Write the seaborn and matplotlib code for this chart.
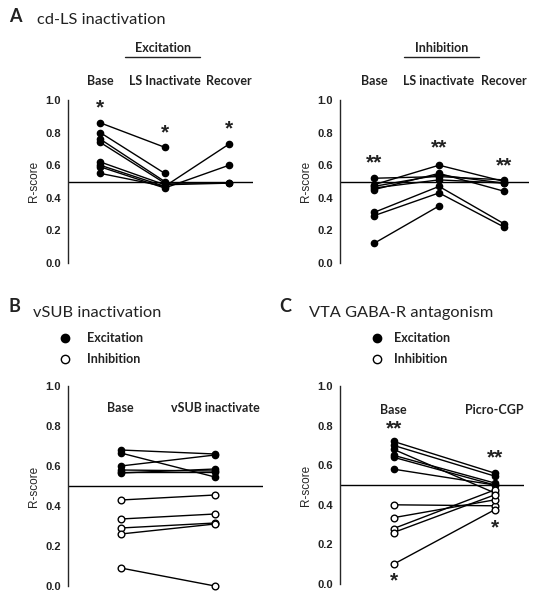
import numpy as np
import pandas as pd
import seaborn as sns
import matplotlib.pyplot as plt
from matplotlib.lines import Line2D

# ---- datos ----
ls_conds = ['Base', 'LS Inactivate', 'Recover']
ls_conds_inh = ['Base', 'LS inactivate', 'Recover']
exc_base = [0.86, 0.80, 0.76, 0.74, 0.62, 0.60, 0.59, 0.55]
exc_ls = [0.71, 0.55, 0.50, 0.49, 0.48, 0.47, 0.46, 0.47]
exc_rec = [np.nan, np.nan, np.nan, 0.49, 0.49, 0.73, 0.60, np.nan]
exc_stars = ['*', '*', '*']
exc_star_y = [0.95, 0.80, 0.82]

inh_base = [0.52, 0.48, 0.47, 0.46, 0.45, 0.31, 0.29, 0.12]
inh_ls = [0.53, 0.60, 0.54, 0.51, 0.55, 0.47, 0.43, 0.35]
inh_rec = [0.51, 0.50, 0.49, 0.49, 0.44, 0.24, 0.22, np.nan]
inh_stars = ['**', '**', '**']
inh_star_y = [0.615, 0.708, 0.595]

vsub_conds = ['Base', 'vSUB inactivate']
vsub_exc_base = [0.68, 0.665, 0.60, 0.58, 0.57, 0.565]
vsub_exc_post = [0.66, 0.545, 0.655, 0.575, 0.57, 0.585]
vsub_inh_base = [0.43, 0.335, 0.29, 0.26, 0.09]
vsub_inh_post = [0.455, 0.36, 0.315, 0.31, 0.0]

vta_conds = ['Base', 'Picro-CGP']
vta_exc_base = [0.72, 0.70, 0.68, 0.65, 0.64, 0.58]
vta_exc_post = [0.56, 0.545, 0.46, 0.51, 0.50, 0.50]
vta_inh_base = [0.40, 0.335, 0.28, 0.26, 0.10]
vta_inh_post = [0.395, 0.425, 0.475, 0.45, 0.375]
vta_stars = [('**', 0, 0.783), ('**', 1, 0.635), ('*', 1, 0.285), ('*', 0, 0.015)]

TXT = ['Lato', 'DejaVu Sans']
NUM = ['Liberation Sans', 'DejaVu Sans']


def long_df(*cols):
    rows = []
    for i, col in enumerate(cols):
        for u, v in enumerate(col):
            if not np.isnan(v):
                rows.append({'unit': u, 'cond': i, 'score': v})
    return pd.DataFrame(rows)


def paired(ax, cols, filled=True):
    df = long_df(*cols)
    sns.lineplot(data=df, x='cond', y='score', units='unit', estimator=None,
                 color='black', lw=1.0, marker='o', ms=4.5 if filled else 4.8,
                 mfc='black' if filled else 'white', mec='black', mew=1.0,
                 ax=ax, legend=False, clip_on=False)


def style_axis(ax, xlim):
    ax.set_xlim(*xlim)
    ax.set_ylim(0, 1.0)
    ax.axhline(0.5, color='black', lw=1.0, zorder=0)
    sns.despine(ax=ax, bottom=True)
    ax.set_xticks([])
    ax.set_xlabel('')
    ax.set_yticks([0, 0.2, 0.4, 0.6, 0.8, 1.0])
    ax.set_yticklabels(['0.0', '0.2', '0.4', '0.6', '0.8', '1.0'],
                       family=NUM, fontsize=8, fontweight='bold', color='#222222')
    ax.tick_params(axis='y', length=3.5, width=1.0, pad=1.5)
    ax.spines['left'].set_linewidth(1.0)
    ax.set_ylabel('R-score', family=NUM, fontsize=8.5, labelpad=4)
    ax.patch.set_alpha(0)


def stars(ax, labels, xs, ys):
    for s, x, y in zip(labels, xs, ys):
        ax.text(x, y, s, ha='center', va='center', fontsize=15, fontweight='bold',
                family=NUM, color='#222222', clip_on=False)


def cond_labels(ax, labels, y):
    for i, s in enumerate(labels):
        ax.text(i, y, s, ha='center', va='center', fontsize=9, fontweight='bold',
                family=TXT, color='#222222', clip_on=False)


sns.set_style('white')
W, H = 534, 600
fig = plt.figure(figsize=(W / 100, H / 100), dpi=100)


def px_axes(x0, y0, x1, y1):
    return fig.add_axes([x0 / W, 1 - y1 / H, (x1 - x0) / W, (y1 - y0) / H])


def ftext(x, y, s, **kw):
    fig.text(x / W, 1 - y / H, s, va='center', family=TXT, color='#222222', **kw)


# ---- A ----
axA1 = px_axes(68, 100, 253, 263)
paired(axA1, [exc_base, exc_ls, exc_rec])
style_axis(axA1, (-0.5, 2.37))
stars(axA1, exc_stars, [0, 1, 2], exc_star_y)
cond_labels(axA1, ls_conds, 1.117)

axA2 = px_axes(340, 100, 529, 263)
paired(axA2, [inh_base, inh_ls, inh_rec])
style_axis(axA2, (-0.52, 2.38))
stars(axA2, inh_stars, [0, 1, 2], inh_star_y)
cond_labels(axA2, ls_conds_inh, 1.117)

ftext(9, 16, 'A', fontsize=13, fontweight='bold')
ftext(37, 20, 'cd-LS inactivation', fontsize=11.8)
ftext(163, 48, 'Excitation', fontsize=9, fontweight='bold', ha='center')
ftext(442, 48, 'Inhibition', fontsize=9, fontweight='bold', ha='center')
for x0, x1 in [(125, 200), (404, 479)]:
    fig.add_artist(Line2D([x0 / W, x1 / W], [1 - 57 / H, 1 - 57 / H],
                          transform=fig.transFigure, color='#222222', lw=1.0))

# ---- B ----
axB = px_axes(68, 386, 263, 586)
paired(axB, [vsub_exc_base, vsub_exc_post], filled=True)
paired(axB, [vsub_inh_base, vsub_inh_post], filled=False)
style_axis(axB, (-0.56, 1.51))
cond_labels(axB, vsub_conds, 0.89)

# ---- C ----
axC = px_axes(340, 386, 524, 584)
paired(axC, [vta_exc_base, vta_exc_post], filled=True)
paired(axC, [vta_inh_base, vta_inh_post], filled=False)
style_axis(axC, (-0.53, 1.29))
for s, x, y in vta_stars:
    stars(axC, [s], [x], [y])
cond_labels(axC, vta_conds, 0.879)

ftext(9, 306, 'B', fontsize=13, fontweight='bold')
ftext(33, 313, 'vSUB inactivation', fontsize=11.8)
ftext(279, 306, 'C', fontsize=13, fontweight='bold')
ftext(309, 313, 'VTA GABA-R antagonism', fontsize=11.8)

for mx, tx in [(65, 87), (377, 394)]:
    for yy, fc, lab in [(338, 'black', 'Excitation'), (359, 'white', 'Inhibition')]:
        fig.add_artist(Line2D([mx / W], [1 - yy / H], transform=fig.transFigure,
                              marker='o', ms=6, mfc=fc, mec='black', mew=1.0, ls='none'))
        ftext(tx, yy, lab, fontsize=9, fontweight='bold')

fig.savefig('out.png', dpi=100)
